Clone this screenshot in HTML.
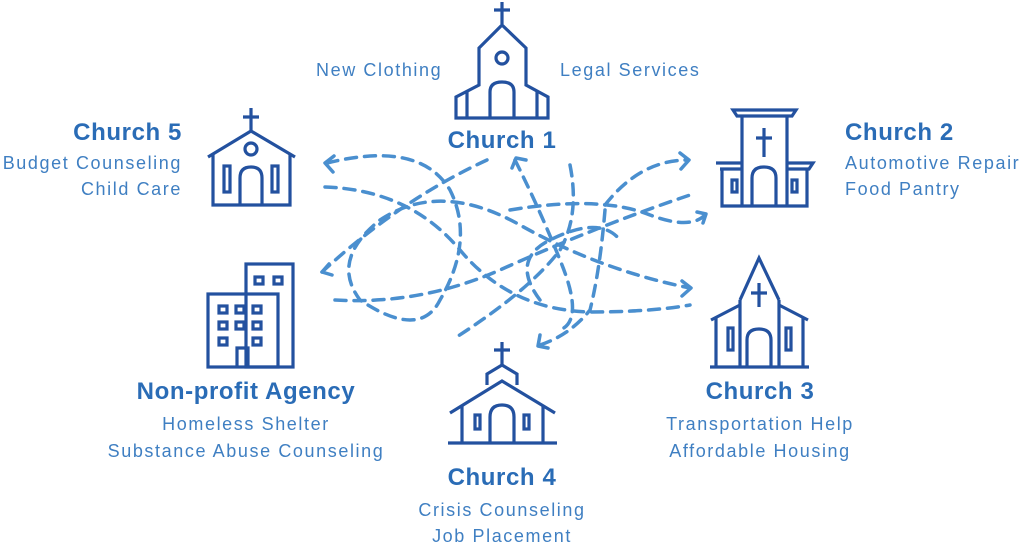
<!DOCTYPE html>
<html><head><meta charset="utf-8"><style>
html,body{margin:0;padding:0;background:#fff;}
body{width:1024px;height:546px;position:relative;overflow:hidden;font-family:"Liberation Sans",sans-serif;}
.t{position:absolute;font-weight:bold;color:#2a6cb6;font-size:24px;letter-spacing:0.6px;white-space:nowrap;line-height:26px;}
.l{position:absolute;color:#3f7fc2;font-size:18px;letter-spacing:1.6px;white-space:nowrap;line-height:20px;}
.c{transform:translateX(-50%);text-align:center;}
.r{transform:translateX(-100%);text-align:right;}
svg{position:absolute;left:0;top:0;}
</style></head><body>
<svg width="1024" height="546" viewBox="0 0 1024 546">
<g fill="none" stroke="#4a8fcf" stroke-width="3.5" stroke-dasharray="11 8" stroke-linecap="round">
<path d="M327,163 Q420,140 450,190 Q475,240 440,300 Q420,340 360,300 Q330,260 380,220 Q440,180 520,225 Q600,270 690,288"/>
<path d="M325,187 Q410,190 460,250 Q510,310 590,312 Q650,312 690,305"/>
<path d="M487,160 Q400,200 322,272"/>
<path d="M515,160 Q540,210 560,260 Q585,320 560,330"/>
<path d="M570,165 Q580,215 560,250 Q530,290 455,338"/>
<path d="M605,205 Q640,160 688,160"/>
<path d="M335,300 Q420,305 500,270 Q600,225 690,195"/>
<path d="M510,210 Q600,195 650,215 Q690,230 705,215"/>
<path d="M605,210 Q600,270 590,310 Q570,335 540,345"/>
<path d="M540,300 Q510,260 550,240 Q600,215 620,240"/>
</g>
<g fill="none" stroke="#4a8fcf" stroke-width="3.5" stroke-linecap="round" stroke-linejoin="round">
<path d="M334,156 L325,163 L333,172"/>
<path d="M329,264 L322,272 L332,275"/>
<path d="M512,168 L516,158 L526,160"/>
<path d="M680,153 L689,160 L681,169"/>
<path d="M697,212 L706,214 L703,223"/>
<path d="M682,281 L691,288 L682,296"/>
<path d="M540,335 L538,346 L548,348"/>
</g>
<g fill="none" stroke="#23519f" stroke-width="3.2" stroke-linejoin="miter">
<!-- Church 1 -->
<path d="M502,2 V24 M494,10 H510"/>
<path d="M502,25 L479,48 V85 L456,97 V118 H548 V97 L526,85 V48 Z"/>
<path d="M467,91 V118 M537,91 V118"/>
<circle cx="502" cy="58" r="6"/>
<path d="M490,118 V92 Q490,82 502,82 Q514,82 514,92 V118"/>
<!-- Church 5 -->
<path d="M251,108 V130 M243,117 H259"/>
<path d="M208,157 L251,131 L295,157"/>
<path d="M213,154 V205 H290 V154"/>
<circle cx="251" cy="149" r="6"/>
<path d="M240,205 V178 Q240,167 251,167 Q262,167 262,178 V205"/>
<rect x="224" y="166" width="6" height="26"/><rect x="272" y="166" width="6" height="26"/>
<!-- Church 2 -->
<path d="M733,110 H796 L792,116 H737 Z"/>
<path d="M742,116 V206 M787,116 V206"/>
<path d="M716,163 H742 M787,163 H813 L809,169 H787 M742,169 H720 Z"/>
<path d="M722,169 V206 H807 V169"/>
<path d="M764,128 V157 M756,138 H772"/>
<path d="M752,206 V178 Q752,167 764,167 Q776,167 776,178 V206"/>
<rect x="732" y="180" width="5" height="12"/><rect x="792" y="180" width="5" height="12"/>
<!-- Church 3 -->
<path d="M740,300 L759,258 L779,300"/>
<path d="M711,320 L740,305 M808,320 L779,305"/>
<path d="M740,300 V367 M779,300 V367 M716,318 V367 M803,318 V367 M710,367 H809"/>
<path d="M759,283 V307 M751,293 H767"/>
<path d="M747,367 V340 Q747,329 759,329 Q771,329 771,340 V367"/>
<rect x="728" y="328" width="5" height="22"/><rect x="786" y="328" width="5" height="22"/>
<!-- Agency -->
<rect x="246" y="264" width="47" height="103"/>
<rect x="208" y="294" width="70" height="73"/>
<rect x="255" y="277" width="8" height="7"/><rect x="274" y="277" width="8" height="7"/>
<rect x="219" y="306" width="8" height="7"/><rect x="236" y="306" width="8" height="7"/><rect x="253" y="306" width="8" height="7"/>
<rect x="219" y="322" width="8" height="7"/><rect x="236" y="322" width="8" height="7"/><rect x="253" y="322" width="8" height="7"/>
<rect x="219" y="338" width="8" height="7"/><rect x="253" y="338" width="8" height="7"/>
<path d="M237,367 V348 H248 V367"/>
<!-- Church 4 -->
<path d="M502,342 V365 M494,350 H510"/>
<path d="M487,385 V374 L502,365 L517,374 V385"/>
<path d="M450,413 L502,381 L555,413"/>
<path d="M462,405 V443 M543,405 V443 M448,443 H557"/>
<path d="M490,443 V417 Q490,405 502,405 Q514,405 514,417 V443"/>
<rect x="475" y="415" width="5" height="14"/><rect x="524" y="415" width="5" height="14"/>
</g>
</svg>
<div class="l" style="left:316px;top:60px;">New Clothing</div>
<div class="l" style="left:560px;top:60px;">Legal Services</div>
<div class="t c" style="left:502px;top:128px;">Church 1</div>
<div class="t r" style="left:182px;top:120px;">Church 5</div>
<div class="l r" style="left:182px;top:153px;">Budget Counseling</div>
<div class="l r" style="left:182px;top:179px;">Child Care</div>
<div class="t" style="left:845px;top:120px;">Church 2</div>
<div class="l" style="left:845px;top:153px;">Automotive Repair</div>
<div class="l" style="left:845px;top:179px;">Food Pantry</div>
<div class="t c" style="left:246px;top:379px;">Non-profit Agency</div>
<div class="l c" style="left:246px;top:414px;">Homeless Shelter</div>
<div class="l c" style="left:246px;top:441px;">Substance Abuse Counseling</div>
<div class="t c" style="left:760px;top:379px;">Church 3</div>
<div class="l c" style="left:760px;top:414px;">Transportation Help</div>
<div class="l c" style="left:760px;top:441px;">Affordable Housing</div>
<div class="t c" style="left:502px;top:465px;">Church 4</div>
<div class="l c" style="left:502px;top:500px;">Crisis Counseling</div>
<div class="l c" style="left:502px;top:526px;">Job Placement</div>
</body></html>
